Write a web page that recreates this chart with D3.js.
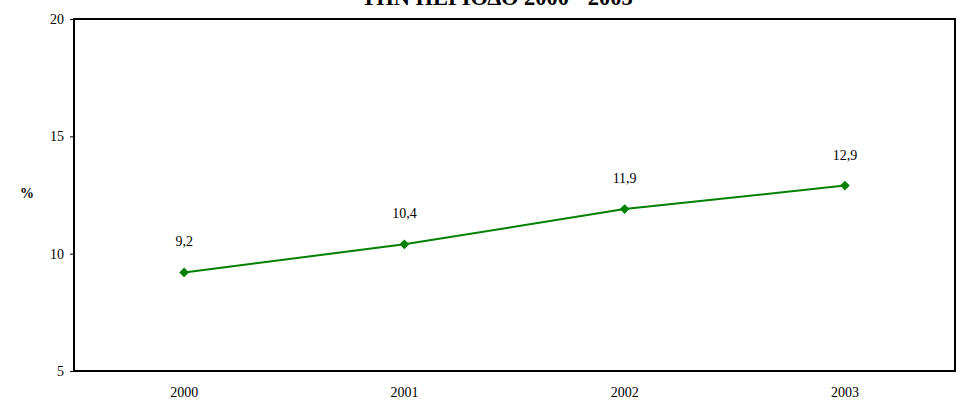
<!DOCTYPE html>
<html>
<head>
<meta charset="utf-8">
<script src="https://cdn.jsdelivr.net/npm/d3@7"></script>
<style>
html,body{margin:0;padding:0;background:#fff;}
svg{display:block;}
svg text{font-family:"Liberation Serif","Times New Roman",serif !important;fill:#000;}
</style>
</head>
<body>
<svg id="chart" width="957" height="400"></svg>
<script>
const categories = ["2000", "2001", "2002", "2003"];
const values = [9.2, 10.4, 11.9, 12.9];
const valueLabels = ["9,2", "10,4", "11,9", "12,9"];
const yTicks = [5, 10, 15, 20];
const titleText = "ΤΗΝ ΠΕΡΙΟΔΟ 2000 - 2003";
const yAxisLabel = "%";

const svg = d3.select("#chart");
const margin = {left: 74, top: 19, right: 2, bottom: 29};
const W = 957, H = 400;
const x0 = margin.left, x1 = W - margin.right, y0 = H - margin.bottom, y1 = margin.top;

const x = d3.scaleBand().domain(categories).range([x0, x1]);
const y = d3.scaleLinear().domain([5, 20]).range([y0, y1]);

// title (partially cut off at top, as in the reference)
svg.append("text")
  .attr("x", 497).attr("y", 5)
  .attr("text-anchor", "middle")
  .attr("font-weight", "bold")
  .attr("font-size", 22.5)
  .text(titleText);

// y axis
const yAxis = svg.append("g")
  .attr("transform", `translate(${x0},0)`)
  .call(d3.axisLeft(y).tickValues(yTicks).tickSize(4).tickPadding(6));
yAxis.select(".domain").remove();
yAxis.selectAll("line").attr("stroke", "#000");
yAxis.selectAll("text").attr("font-size", 14);

// x axis labels (no ticks)
const xAxis = svg.append("g")
  .attr("transform", `translate(0,${y0})`)
  .call(d3.axisBottom(x).tickSize(0).tickPadding(16));
xAxis.select(".domain").remove();
xAxis.selectAll("text").attr("font-size", 14);

// plot frame
svg.append("rect")
  .attr("x", x0).attr("y", y1)
  .attr("width", x1 - x0).attr("height", y0 - y1)
  .attr("fill", "none").attr("stroke", "#000").attr("stroke-width", 2);

// y label
svg.append("text")
  .attr("x", 27).attr("y", 198)
  .attr("text-anchor", "middle")
  .attr("font-weight", "bold")
  .attr("font-size", 14)
  .text(yAxisLabel);

const data = categories.map((c, i) => ({c, v: values[i], l: valueLabels[i]}));
const cx = d => x(d.c) + x.bandwidth() / 2;

const line = d3.line().x(cx).y(d => y(d.v));
svg.append("path").datum(data)
  .attr("d", line)
  .attr("fill", "none").attr("stroke", "#008000").attr("stroke-width", 2);

svg.selectAll(".pt").data(data).enter().append("path")
  .attr("class", "pt")
  .attr("transform", d => `translate(${cx(d)},${y(d.v)})`)
  .attr("d", d3.symbol().type(d3.symbolDiamond2).size(60))
  .attr("fill", "#008000");

svg.selectAll(".lbl").data(data).enter().append("text")
  .attr("class", "lbl")
  .attr("x", cx).attr("y", d => y(d.v) - 26)
  .attr("text-anchor", "middle")
  .attr("font-size", 14)
  .text(d => d.l);
</script>
</body>
</html>
